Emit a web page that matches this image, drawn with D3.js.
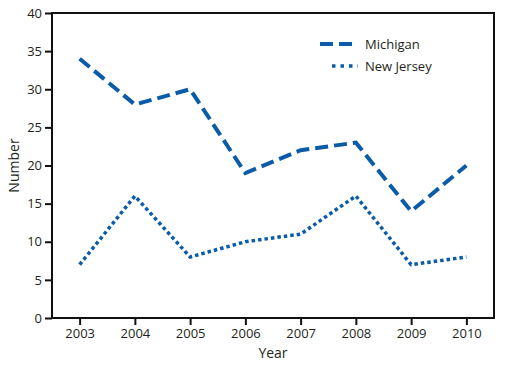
<!DOCTYPE html>
<html>
<head>
<meta charset="utf-8">
<script src="https://cdn.jsdelivr.net/npm/d3@7"></script>
<style>
  body { margin: 0; background: #fff; }
  text { font-family: "Open Sans", sans-serif; fill: #231f20; }
</style>
</head>
<body>
<div id="chart"></div>
<script>
var years = [2003, 2004, 2005, 2006, 2007, 2008, 2009, 2010];
var michigan = [34, 28, 30, 19, 22, 23, 14, 20];
var newJersey = [7, 16, 8, 10, 11, 16, 7, 8];
var yTicks = [0, 5, 10, 15, 20, 25, 30, 35, 40];

var width = 508, height = 370;
var margin = {top: 13, right: 14, bottom: 52, left: 52};
var blue = "#0a5ca8";

var svg = d3.select("#chart").append("svg")
  .attr("width", width)
  .attr("height", height);

var x = d3.scalePoint()
  .domain(years)
  .range([margin.left, width - margin.right])
  .padding(0.5);

var y = d3.scaleLinear()
  .domain([0, 40])
  .range([height - margin.bottom, margin.top]);

// frame
svg.append("rect")
  .attr("x", margin.left)
  .attr("y", margin.top)
  .attr("width", width - margin.left - margin.right)
  .attr("height", height - margin.top - margin.bottom)
  .attr("fill", "none")
  .attr("stroke", "#111")
  .attr("stroke-width", 2);

var yAxis = svg.append("g")
  .attr("transform", "translate(" + margin.left + ",0)")
  .call(d3.axisLeft(y).tickValues(yTicks).tickSize(7).tickPadding(3));
var xAxis = svg.append("g")
  .attr("transform", "translate(0," + (height - margin.bottom) + ")")
  .call(d3.axisBottom(x).tickSize(7).tickPadding(4).tickFormat(d3.format("d")));

[yAxis, xAxis].forEach(function(g){
  g.select(".domain").remove();
  g.selectAll("line").attr("stroke", "#111").attr("stroke-width", 2);
  g.selectAll("text").style("font-size", "13px").style("font-family", "'Open Sans', sans-serif").attr("fill", "#231f20");
});

svg.append("text")
  .attr("x", (margin.left + width - margin.right) / 2)
  .attr("y", 358)
  .attr("text-anchor", "middle")
  .style("font-size", "14px")
  .text("Year");

svg.append("text")
  .attr("transform", "translate(19," + ((margin.top + height - margin.bottom) / 2) + ") rotate(-90)")
  .attr("text-anchor", "middle")
  .style("font-size", "14px")
  .text("Number");

var line = d3.line()
  .x(function(d, i){ return x(years[i]); })
  .y(function(d){ return y(d); });

svg.append("path")
  .attr("d", line(michigan))
  .attr("fill", "none")
  .attr("stroke", blue)
  .attr("stroke-width", 4)
  .attr("stroke-dasharray", "13,6");

svg.append("path")
  .attr("d", line(newJersey))
  .attr("fill", "none")
  .attr("stroke", blue)
  .attr("stroke-width", 3.5)
  .attr("stroke-dasharray", "3.5,3");

// legend
var legend = [
  {name: "Michigan", dash: "13,6", w: 4, x1: 320},
  {name: "New Jersey", dash: "3.5,5", w: 3.5, x1: 332}
];
legend.forEach(function(l, i){
  var ly = 44 + i * 22;
  svg.append("line")
    .attr("x1", l.x1).attr("x2", 358)
    .attr("y1", ly).attr("y2", ly)
    .attr("stroke", blue)
    .attr("stroke-width", l.w)
    .attr("stroke-dasharray", l.dash);
  svg.append("text")
    .attr("x", 365)
    .attr("y", ly + 5)
    .style("font-size", "13px")
    .text(l.name);
});
</script>
</body>
</html>
